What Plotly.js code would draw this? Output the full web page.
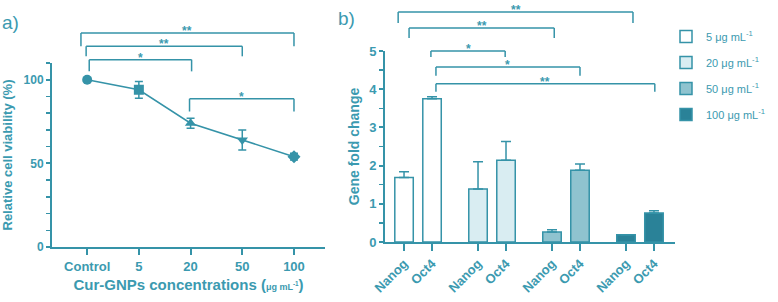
<!DOCTYPE html>
<html>
<head>
<meta charset="utf-8">
<script src="https://cdn.plot.ly/plotly-3.0.1.min.js"></script>
<style>html,body{margin:0;padding:0;background:#fff;}#chart{width:778px;height:302px;}</style>
</head>
<body>
<div id="chart"></div>
<script>
// ---------- Panel a) data ----------
const viabilityCategories = ['Control', '5', '20', '50', '100'];
const viabilityValues = [100, 94, 74, 64, 54];
const viabilityErrors = [1, 5, 3, 6, 2];
const viabilitySymbols = ['circle', 'square', 'triangle-up', 'triangle-down', 'diamond'];
// significance brackets: [fromIndex, toIndex, level, drop, label]
const bracketsA = [
  [0, 4, 128, 120, '**'],
  [0, 3, 120, 114, '**'],
  [0, 2, 112, 105, '*'],
  [2, 4, 88.6, 81, '*']
];
const bracketsANudge = [[-0.12, 0], [-0.02, 0], [0.04, 0.02], [-0.02, 0]];

// ---------- Panel b) data ----------
const genes = ['Nanog', 'Oct4'];
const concentrationNames = ['5 μg mL<sup>-1</sup>', '20 μg mL<sup>-1</sup>', '50 μg mL<sup>-1</sup>', '100 μg mL<sup>-1</sup>'];
const nanogFold = [1.69, 1.39, 0.26, 0.19];
const oct4Fold = [3.75, 2.14, 1.88, 0.76];
const nanogErr = [0.15, 0.71, 0.06, 0.0];
const oct4Err = [0.05, 0.49, 0.16, 0.06];
// brackets: [fromGroup, fromGene, toGroup, toGene, level, drop, label]
const bracketsB = [
  [0, 0, 3, 0, 6.02, 5.73, '**'],
  [0, 0, 2, 0, 5.60, 5.34, '**'],
  [0, 1, 1, 1, 5.00, 4.84, '*'],
  [0, 1, 2, 1, 4.58, 4.35, '*'],
  [0, 1, 3, 1, 4.14, 3.93, '**']
];
const bracketsBNudge = [[-0.21, 0.25], [0.18, 0.08], [-0.04, -0.03], [0.14, 0.0], [0.14, 0.03]];

// ---------- styles ----------
const TEAL = '#3593a8';
const TEXT = '#3b9ab0';
const FILLS = ['#ffffff', '#d9edf2', '#8fc3cf', '#2a8298'];
const FONT = 'Liberation Sans, Arial, sans-serif';
const GROUP_GAP = 2.643;   // group spacing in pair units
const BAR_W = 0.66;

const domA = {x: [52 / 778, 325 / 778], y: [55 / 302, 239 / 302]};
const rangeA = {x: [-0.68, 4.6], y: [0, 110]};
const domB = {x: [385 / 778, 675 / 778], y: [60 / 302, 251 / 302]};
const rangeB = {x: [-0.68, 9.68], y: [0, 5]};

function yPaper(v, dom, rng) {
  return dom[0] + (v - rng[0]) / (rng[1] - rng[0]) * (dom[1] - dom[0]);
}
function barPos(g, j) { return g * GROUP_GAP + j; }

const traces = [];
traces.push({
  type: 'scatter', mode: 'lines+markers',
  x: viabilityCategories, y: viabilityValues,
  xaxis: 'x', yaxis: 'y', showlegend: false,
  line: {color: TEAL, width: 1.5},
  marker: {color: TEAL, size: 10, symbol: viabilitySymbols},
  error_y: {type: 'data', array: viabilityErrors, color: TEAL, thickness: 1.5, width: 4},
  cliponaxis: false
});

concentrationNames.forEach((name, g) => {
  traces.push({
    type: 'bar', name: name, legendgroup: 'g' + g,
    x: genes.map((_, j) => barPos(g, j)),
    y: [nanogFold[g], oct4Fold[g]],
    width: BAR_W,
    xaxis: 'x2', yaxis: 'y2',
    marker: {color: FILLS[g], line: {color: TEAL, width: 1.5}},
    error_y: {type: 'data', symmetric: false, array: [nanogErr[g], oct4Err[g]], arrayminus: [0, 0],
              color: TEAL, thickness: 1.5, width: 5}
  });
});

const shapes = [];
const annotations = [];
function addBracket(xref, x1, x2, level, drop, label, dom, rng) {
  const yt = yPaper(level, dom, rng), yd = yPaper(drop, dom, rng);
  const ln = {color: TEAL, width: 1.5};
  shapes.push({type: 'line', xref: xref, yref: 'paper', x0: x1, x1: x1, y0: yd, y1: yt, line: ln});
  shapes.push({type: 'line', xref: xref, yref: 'paper', x0: x1, x1: x2, y0: yt, y1: yt, line: ln});
  shapes.push({type: 'line', xref: xref, yref: 'paper', x0: x2, x1: x2, y0: yt, y1: yd, line: ln});
  annotations.push({xref: xref, yref: 'paper', x: (x1 + x2) / 2, y: yt, yanchor: 'bottom', yshift: -7,
    text: label, showarrow: false, font: {family: FONT, size: 12, color: TEXT, weight: 'bold'}});
}
bracketsA.forEach((b, i) => addBracket('x', b[0] + bracketsANudge[i][0], b[1] + bracketsANudge[i][1], b[2], b[3], b[4], domA.y, rangeA.y));
bracketsB.forEach((b, i) => addBracket('x2', barPos(b[0], b[1]) + bracketsBNudge[i][0], barPos(b[2], b[3]) + bracketsBNudge[i][1], b[4], b[5], b[6], domB.y, rangeB.y));

annotations.push({xref: 'paper', yref: 'paper', x: 0 / 778, y: 1 - 10 / 302, xanchor: 'left', yanchor: 'top',
  text: 'a)', showarrow: false, font: {family: FONT, size: 19, color: TEXT}});
annotations.push({xref: 'paper', yref: 'paper', x: 336 / 778, y: 1 - 6 / 302, xanchor: 'left', yanchor: 'top',
  text: 'b)', showarrow: false, font: {family: FONT, size: 19, color: TEXT}});

const tickFont = {family: FONT, size: 12, color: TEXT, weight: 'bold'};
const axisCommon = {showline: true, linecolor: TEAL, linewidth: 2, ticks: 'outside', tickcolor: TEAL,
  tickwidth: 2, showgrid: false, zeroline: false, tickfont: tickFont};

const layout = {
  width: 778, height: 302,
  margin: {l: 0, r: 0, t: 0, b: 0},
  paper_bgcolor: '#fff', plot_bgcolor: 'rgba(0,0,0,0)',
  font: {family: FONT, color: TEXT},
  barmode: 'overlay',
  xaxis: Object.assign({}, axisCommon, {domain: domA.x, anchor: 'y', type: 'category',
    categoryorder: 'array', categoryarray: viabilityCategories, range: rangeA.x, ticklen: 6,
    tickfont: Object.assign({}, tickFont, {size: 13}),
    title: {text: 'Cur-GNPs concentrations (<span style="font-size:9px">μg mL<sup>-1</sup></span>)',
      font: {family: FONT, size: 15, color: TEXT, weight: 'bold'}, standoff: 7}}),
  yaxis: Object.assign({}, axisCommon, {domain: domA.y, anchor: 'x', range: rangeA.y,
    tickvals: [0, 50, 100], ticklen: 4,
    minor: {tickvals: [10, 20, 30, 40, 60, 70, 80, 90, 110], ticks: 'outside', ticklen: 4, tickcolor: TEAL, tickwidth: 1.5},
    title: {text: 'Relative cell viability (%)', font: {family: FONT, size: 13, color: TEXT, weight: 'bold'}, standoff: 8}}),
  xaxis2: Object.assign({}, axisCommon, {domain: domB.x, anchor: 'y2', range: rangeB.x, ticklen: 7,
    tickvals: concentrationNames.flatMap((_, g) => genes.map((_, j) => barPos(g, j))),
    ticktext: concentrationNames.flatMap(() => genes),
    tickangle: -45, tickfont: Object.assign({}, tickFont, {size: 13})}),
  yaxis2: Object.assign({}, axisCommon, {domain: domB.y, anchor: 'x2', range: rangeB.y,
    dtick: 1, ticklen: 4, tickfont: Object.assign({}, tickFont, {size: 13}),
    minor: {dtick: 0.5, ticks: 'outside', ticklen: 4, tickcolor: TEAL, tickwidth: 1.5},
    title: {text: 'Gene fold change', font: {family: FONT, size: 14, color: TEXT, weight: 'bold'}, standoff: 6}}),
  legend: {x: 666 / 778, y: 1 - 22 / 302, xanchor: 'left', yanchor: 'top', bgcolor: 'rgba(0,0,0,0)',
    font: {family: FONT, size: 11, color: TEXT}, tracegroupgap: 7, traceorder: 'grouped'},
  shapes: shapes,
  annotations: annotations
};

Plotly.newPlot('chart', traces, layout, {staticPlot: true, displayModeBar: false});
</script>
</body>
</html>
